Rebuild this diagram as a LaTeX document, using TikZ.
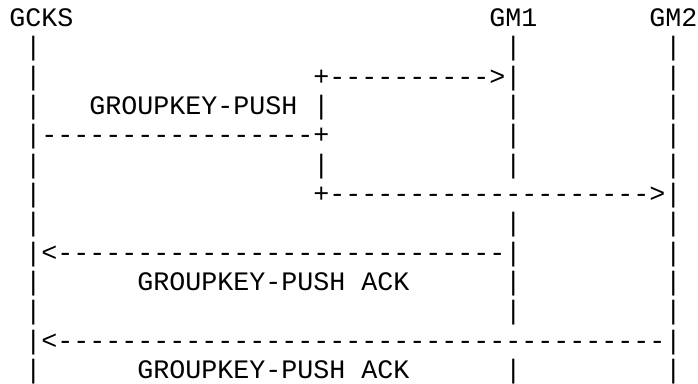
\documentclass[tikz,border=0pt]{standalone}
\usepackage{fontspec}
\setmonofont{Liberation Mono}
\newcommand\dashrun[1]{\foreach\i in {1,...,#1}{-}}

\begin{document}
\begin{tikzpicture}[x=16pt,y=-29.3pt]
\tikzstyle{ascii}=[inner sep=0pt,outer sep=0pt,anchor=base west,font=\ttfamily\fontsize{26.67pt}{29.3pt}\selectfont]
\useasboundingbox (-0.58,-0.911) rectangle (43.04,12.16);
% heads
\node[ascii] (gcks) at (0,0) {GCKS};
\node[ascii] (gm1) at (30,0) {GM1};
\node[ascii] (gm2) at (40,0) {GM2};
% lifelines
\foreach \r in {1,...,12}
	\node[ascii] (gcksline\r) at (1,\r) {|};
\foreach \r in {1,...,5,7,8,9,10,12}
	\node[ascii] (gmoneline\r) at (31,\r) {|};
\foreach \r in {1,...,12}
	\node[ascii] (gmtwoline\r) at (41,\r) {|};
\foreach \r in {3,5}
	\node[ascii] (splitline\r) at (19,\r) {|};
% push
\node[ascii] (pushlabel) at (5,3) {GROUPKEY-PUSH};
\node[ascii] (pushout) at (2,4) {\dashrun{17}+};
\node[ascii] (pushgmone) at (19,2) {+\dashrun{10}>};
\node[ascii] (pushgmtwo) at (19,6) {+\dashrun{20}>};
% acks
\node[ascii] (ackgmone) at (2,8) {<\dashrun{28}};
\node[ascii] (acklabelone) at (8,9) {GROUPKEY-PUSH ACK};
\node[ascii] (ackgmtwo) at (2,11) {<\dashrun{38}};
\node[ascii] (acklabeltwo) at (8,12) {GROUPKEY-PUSH ACK};
\end{tikzpicture}
\end{document}
